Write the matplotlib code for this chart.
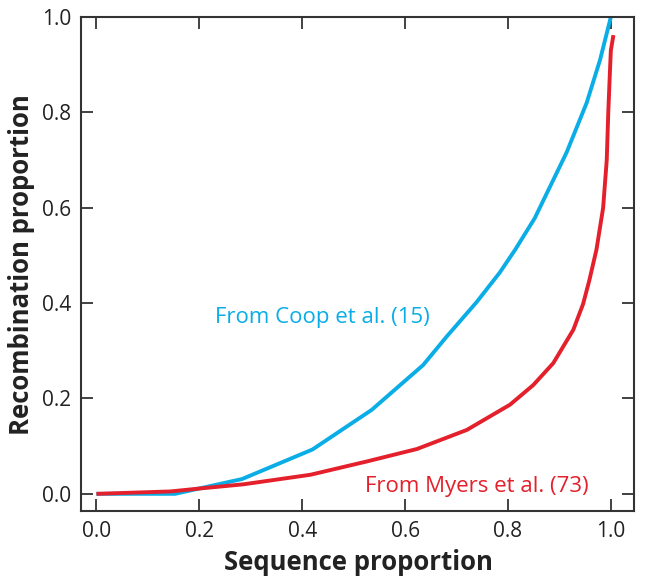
import matplotlib
matplotlib.use("Agg")
import matplotlib.pyplot as plt

# Coop et al. (15) curve
coop_x = [0.0, 0.153, 0.199, 0.283, 0.420, 0.535, 0.635, 0.681, 0.739, 0.784,
          0.814, 0.852, 0.914, 0.953, 0.979, 1.0]
coop_y = [0.0, 0.0, 0.011, 0.031, 0.093, 0.176, 0.270, 0.330, 0.402, 0.464,
          0.512, 0.578, 0.716, 0.820, 0.910, 1.0]

# Myers et al. (73) curve
myers_x = [0.0, 0.144, 0.199, 0.286, 0.416, 0.526, 0.623, 0.720, 0.804, 0.849,
           0.888, 0.927, 0.946, 0.958, 0.972, 0.985, 0.992, 0.995, 0.998, 1.000,
           1.005]
myers_y = [0.0, 0.005, 0.011, 0.020, 0.040, 0.068, 0.094, 0.134, 0.187, 0.228,
           0.274, 0.344, 0.398, 0.447, 0.512, 0.600, 0.700, 0.800, 0.880, 0.930,
           0.962]

ticks = [0.0, 0.2, 0.4, 0.6, 0.8, 1.0]
tick_labels = ["0.0", "0.2", "0.4", "0.6", "0.8", "1.0"]

BLUE = "#0AADE6"
RED = "#E3202B"
FRAME = "#333333"

plt.rcParams["font.family"] = ["Open Sans", "DejaVu Sans"]

fig = plt.figure(figsize=(6.45, 5.88), dpi=100)
ax = fig.add_axes([81 / 645, 1 - 511 / 588, 553 / 645, 494 / 588])

ax.plot(coop_x, coop_y, color=BLUE, lw=2.8, solid_capstyle="butt",
        solid_joinstyle="round")
ax.plot(myers_x, myers_y, color=RED, lw=2.8, solid_capstyle="butt",
        solid_joinstyle="round")

ax.set_xlim(-0.03, 1.045)
ax.set_ylim(-0.036, 1.0)
ax.set_xticks(ticks)
ax.set_xticklabels(tick_labels)
ax.set_yticks(ticks)
ax.set_yticklabels(tick_labels)

ax.tick_params(direction="in", length=8.5, width=1.3, color=FRAME,
               labelsize=15, labelcolor="#222222", top=True, right=True, pad=7)
for spine in ax.spines.values():
    spine.set_color(FRAME)
    spine.set_linewidth(1.5)

ax.text(0.231, 0.358, "From Coop et al. (15)", color=BLUE, fontsize=16,
        ha="left", va="baseline")
ax.text(0.957, 0.004, "From Myers et al. (73)", color=RED, fontsize=16,
        ha="right", va="baseline")

fig.text(22 / 645, 1 - 265 / 588, "Recombination proportion", rotation=90,
         ha="center", va="center", fontsize=18.5, fontweight="bold", color="#222222")
fig.text(358 / 645, 1 - 563 / 588, "Sequence proportion",
         ha="center", va="center", fontsize=18.5, fontweight="bold", color="#222222")

fig.savefig("out.png", dpi=100)
